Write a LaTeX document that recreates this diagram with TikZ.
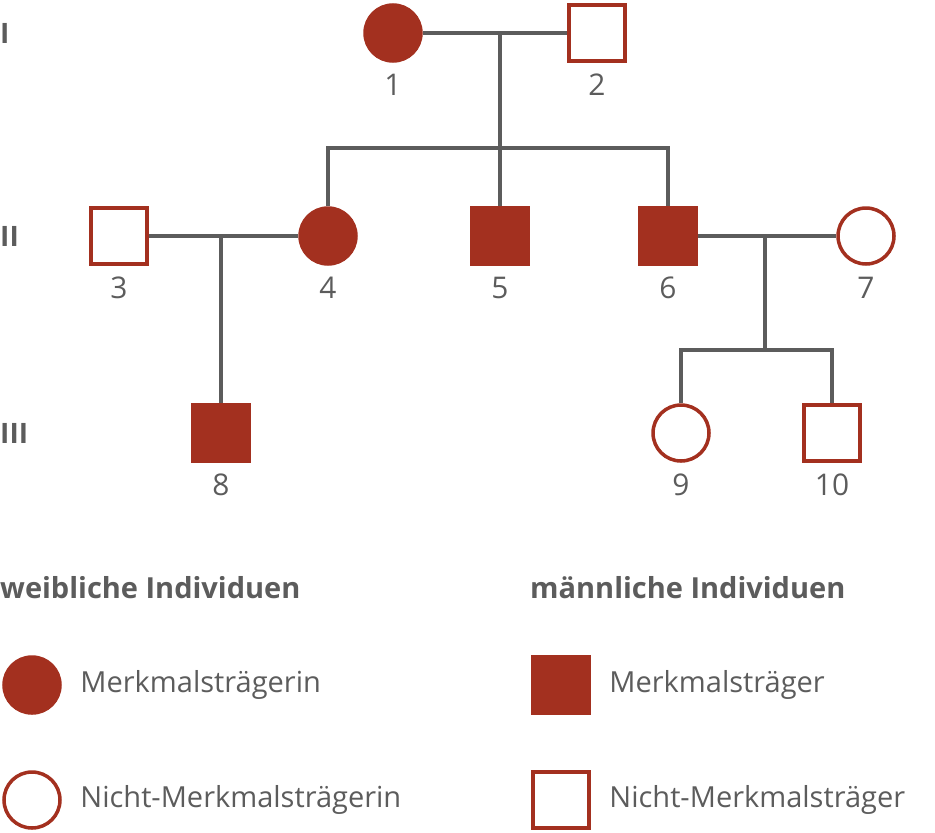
\documentclass[tikz,border=0pt]{standalone}
\usepackage{fontspec}
\setmainfont{Open Sans}
\usetikzlibrary{positioning}
\definecolor{rost}{HTML}{A3301F}
\definecolor{grau}{HTML}{5C5C5C}
\tikzset{
	female/.style={draw=rost,line width=2pt,circle,minimum size=1.12cm,inner sep=0pt},
	male/.style={draw=rost,line width=2pt,rectangle,minimum size=1.12cm,inner sep=0pt},
	affected/.style={fill=rost},
	num/.style={text=grau,font=\fontsize{17}{17}\selectfont},
	gen/.style={text=grau,font=\fontsize{16}{16}\selectfont\bfseries,anchor=west},
	legtext/.style={text=grau,font=\fontsize{16.5}{16.5}\selectfont,anchor=west},
	leghead/.style={text=grau,font=\fontsize{16.5}{16.5}\selectfont\bfseries,anchor=west},
	link/.style={draw=grau,line width=2.3pt},
}
\begin{document}
\begin{tikzpicture}[x=0.02cm,y=-0.02cm]
	\useasboundingbox (0,0) rectangle (935,832);
	% individuals
	\node[female,affected] (p1) at (393,33) {};
	\node[male] (p2) at (597,33) {};
	\node[male] (p3) at (119,236) {};
	\node[female,affected] (p4) at (328,236) {};
	\node[male,affected] (p5) at (500,236) {};
	\node[male,affected] (p6) at (668,236) {};
	\node[female] (p7) at (866,236) {};
	\node[male,affected] (p8) at (221,433) {};
	\node[female] (p9) at (681,433) {};
	\node[male] (p10) at (832,433) {};
	\foreach \n in {1,...,10}
		\node[num,below=0.1cm of p\n] {\n};
	% generations
	\node[gen] at (-6,33) {I};
	\node[gen] at (-6,236) {II};
	\node[gen] at (-6,433) {III};
	% lines
	\coordinate (m12) at (500,33);
	\coordinate (s12) at (500,148);
	\coordinate (m34) at (221,236);
	\coordinate (m67) at (765,236);
	\coordinate (s67) at (765,350);
	\draw[link] (p1) -- (p2);
	\draw[link] (m12) -- (s12);
	\draw[link] (p4.north) |- (s12) -| (p6.north);
	\draw[link] (s12) -- (p5.north);
	\draw[link] (p3) -- (p4);
	\draw[link] (m34) -- (p8.north);
	\draw[link] (p6) -- (p7);
	\draw[link] (m67) -- (s67);
	\draw[link] (p9.north) |- (s67) -| (p10.north);
	% legend
	\node[leghead] at (-6,588) {weibliche Individuen};
	\node[leghead] at (524,588) {männliche Individuen};
	\node[female,affected] (lf1) at (32,685) {};
	\node[female] (lf2) at (32,800) {};
	\node[male,affected] (lm1) at (561,685) {};
	\node[male] (lm2) at (561,800) {};
	\node[legtext,right=0.25cm of lf1] {Merkmalsträgerin};
	\node[legtext,right=0.25cm of lf2] {Nicht-Merkmalsträgerin};
	\node[legtext,right=0.25cm of lm1] {Merkmalsträger};
	\node[legtext,right=0.25cm of lm2] {Nicht-Merkmalsträger};
\end{tikzpicture}
\end{document}
